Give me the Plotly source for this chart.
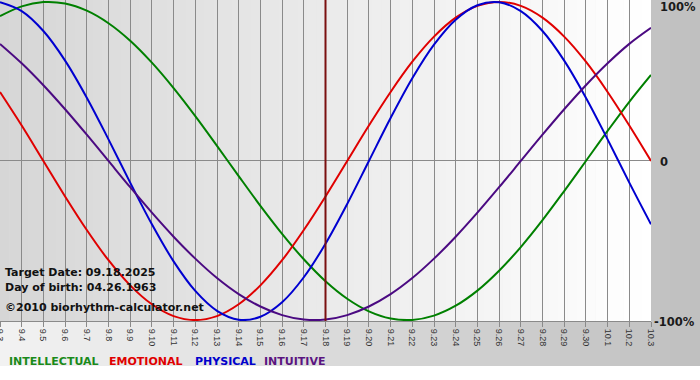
import plotly.graph_objects as go

# ---------------- data ----------------
dates = ["9.3", "9.4", "9.5", "9.6", "9.7", "9.8", "9.9", "9.10", "9.11", "9.12",
         "9.13", "9.14", "9.15", "9.16", "9.17", "9.18", "9.19", "9.20", "9.21", "9.22",
         "9.23", "9.24", "9.25", "9.26", "9.27", "9.28", "9.29", "9.30", "10.1", "10.2", "10.3"]

intellectual = [0.910, 0.972, 0.999, 0.990, 0.945, 0.866, 0.756, 0.618, 0.458, 0.282,
                0.095, -0.095, -0.282, -0.458, -0.618, -0.756, -0.866, -0.945, -0.990, -0.999,
                -0.972, -0.910, -0.815, -0.690, -0.541, -0.372, -0.189, 0.0, 0.189, 0.372, 0.541]
emotional = [0.434, 0.223, 0.0, -0.223, -0.434, -0.624, -0.782, -0.901, -0.975, -1.0,
             -0.975, -0.901, -0.782, -0.624, -0.434, -0.223, 0.0, 0.223, 0.434, 0.624,
             0.782, 0.901, 0.975, 1.0, 0.975, 0.901, 0.782, 0.624, 0.434, 0.223, 0.0]
physical = [0.998, 0.942, 0.817, 0.631, 0.398, 0.136, -0.136, -0.398, -0.631, -0.817,
            -0.942, -0.998, -0.979, -0.888, -0.731, -0.520, -0.270, 0.0, 0.270, 0.520,
            0.731, 0.888, 0.979, 0.998, 0.942, 0.817, 0.631, 0.398, 0.136, -0.136, -0.398]
intuitive = [0.736, 0.614, 0.476, 0.325, 0.165, 0.0, -0.165, -0.325, -0.476, -0.614,
             -0.736, -0.837, -0.915, -0.969, -0.997, -0.997, -0.969, -0.915, -0.837, -0.736,
             -0.614, -0.476, -0.325, -0.165, 0.0, 0.165, 0.325, 0.476, 0.614, 0.736, 0.837]

series_names = ["INTELLECTUAL", "EMOTIONAL", "PHYSICAL", "INTUITIVE"]
target_date = "9.18"
info_lines = ["Target Date: 09.18.2025", "Day of birth: 04.26.1963", "©2010 biorhythm-calculator.net"]
y_labels = ["100%", "0", "-100%"]

# ---------------- layout constants ----------------
W, H = 700, 380
ML, MR, MT, MB = 0, 49, 0, 59
PW, PH = W - ML - MR, H - MT - MB

def px(x):
    return (x - ML) / PW

def py(y):
    return (MT + PH - y) / PH

line_colors = ["#008000", "#e00000", "#0000d0", "#4b0a82"]
text_colors = ["#1a8a1a", "#e00000", "#0000cc", "#5a1480"]

fig = go.Figure()
for name, vals, col in zip(series_names, [intellectual, emotional, physical, intuitive], line_colors):
    fig.add_trace(go.Scatter(x=dates, y=vals, mode="lines", name=name,
                             line=dict(color=col, width=2, shape="spline", smoothing=1.0),
                             hoverinfo="skip", showlegend=False))

def lerp_col(c0, c1, t):
    v = [round(a + (b - a) * t) for a, b in zip(c0, c1)]
    return "rgb(%d,%d,%d)" % tuple(v)

shapes = []
# page background gradient
N = 70
for i in range(N):
    x0 = W * i / N
    x1 = W * (i + 1) / N + 0.6
    shapes.append(dict(type="rect", xref="paper", yref="paper", layer="below",
                       x0=px(x0), x1=px(x1), y0=py(366), y1=py(0),
                       fillcolor=lerp_col((242, 242, 242), (192, 192, 192), i / (N - 1)),
                       line=dict(width=0)))
# plot area gradient
for i in range(N):
    x0 = PW * i / N
    x1 = PW * (i + 1) / N + 0.6
    shapes.append(dict(type="rect", xref="paper", yref="paper", layer="below",
                       x0=px(x0), x1=min(px(x1), 1.0), y0=0, y1=1,
                       fillcolor=lerp_col((214, 214, 214), (255, 255, 255), i / (N - 1)),
                       line=dict(width=0)))
# target date line (category index)
t_idx = dates.index(target_date)
shapes.append(dict(type="line", xref="x", yref="paper", x0=t_idx, x1=t_idx,
                   y0=0, y1=1, line=dict(color="#7a1010", width=2), layer="above"))

annotations = []
info_y = [272, 287, 307]
for t, yy in zip(info_lines, info_y):
    annotations.append(dict(text=t, xref="paper", yref="paper", x=px(3), y=py(yy),
                            xanchor="left", yanchor="middle", showarrow=False,
                            font=dict(family="DejaVu Sans", size=11, color="#111111", weight="bold")))
legend_x = [7, 107, 193, 262]
for name, xx, col in zip(series_names, legend_x, text_colors):
    annotations.append(dict(text=name, xref="paper", yref="paper", x=px(xx), y=py(361),
                            xanchor="left", yanchor="middle", showarrow=False,
                            font=dict(family="DejaVu Sans", size=11, color=col, weight="bold")))
ylab_pos = [(658, 7), (658, 162), (652, 322)]
for t, (xx, yy) in zip(y_labels, ylab_pos):
    annotations.append(dict(text=t, xref="paper", yref="paper", x=px(xx), y=py(yy),
                            xanchor="left", yanchor="middle", showarrow=False,
                            font=dict(family="DejaVu Sans", size=11.5, color="#1a1a1a", weight="bold")))

fig.update_layout(
    template="none",
    width=W, height=H,
    margin=dict(l=ML, r=MR, t=MT, b=MB, pad=0),
    paper_bgcolor="#ffffff",
    plot_bgcolor="rgba(0,0,0,0)",
    shapes=shapes,
    annotations=annotations,
    showlegend=False,
    xaxis=dict(type="category", categoryorder="array", categoryarray=dates,
               range=[0, len(dates) - 1], automargin=False,
               showgrid=True, gridcolor="#8a8a8a", gridwidth=1,
               showline=True, linecolor="#8a8a8a", linewidth=1,
               ticks="outside", ticklen=5, tickcolor="#8a8a8a", tickwidth=1,
               tickangle=90, tickfont=dict(family="Liberation Sans", size=9, color="#333333"),
               zeroline=False, fixedrange=True),
    yaxis=dict(range=[-1.006, 1.012], automargin=False, showgrid=False,
               zeroline=True, zerolinecolor="#8a8a8a", zerolinewidth=1,
               showticklabels=False, ticks="", showline=False, fixedrange=True),
)

fig.write_html("out.html", config={"displayModeBar": False},
               post_script="document.body.style.margin='0';document.body.style.overflow='hidden';")
